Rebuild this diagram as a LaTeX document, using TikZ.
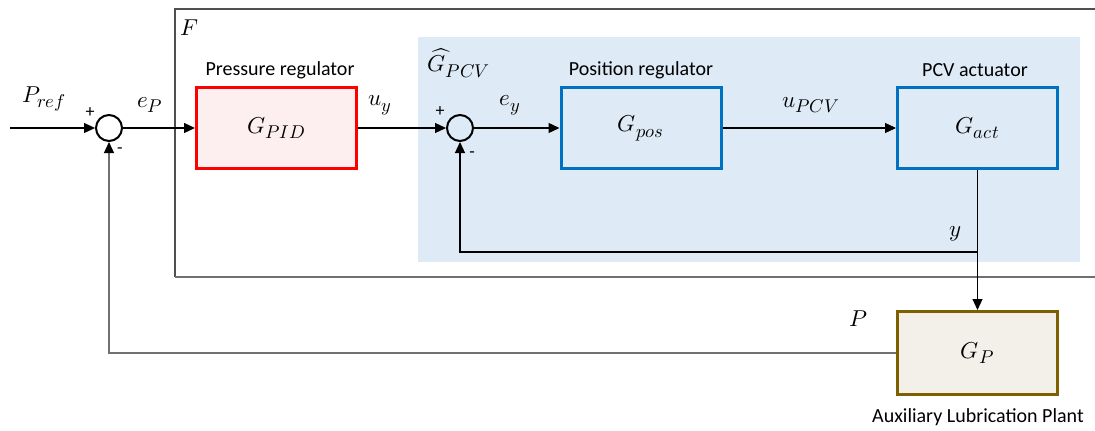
\documentclass[tikz,border=0pt]{standalone}
\usepackage{fontspec}
\usepackage{unicode-math}
\setmainfont{Carlito}
\setmathfont{Latin Modern Math}
\DeclareMathSizes{23}{23}{18.5}{14}
\usetikzlibrary{arrows.meta}
\definecolor{bgblue}{HTML}{DEEBF7}
\definecolor{blkblue}{HTML}{0070C0}
\definecolor{pidfill}{HTML}{FDEFEF}
\definecolor{brown}{HTML}{7F6000}
\definecolor{gpfill}{HTML}{F2F0E9}
\definecolor{frame}{HTML}{707070}
\definecolor{framedark}{HTML}{505050}
\begin{document}
\begin{tikzpicture}[x=1pt,y=-1pt,
  blk/.style={draw, line width=3pt, minimum width=160pt, minimum height=81pt, inner sep=0pt, font=\fontsize{23}{27}\selectfont},
  sumj/.style={circle, draw, line width=2pt, minimum size=26pt, inner sep=0pt},
  conn/.style={line width=1.2pt, -{Triangle[length=11pt,width=10pt,color=black]}},
  lbl/.style={inner sep=0pt, font=\fontsize{20}{23}\selectfont},
  mlbl/.style={inner sep=0pt, font=\fontsize{23}{27}\selectfont},
  sgn/.style={inner sep=0pt, font=\fontsize{18}{20}\selectfont}]
\useasboundingbox (0,0) rectangle (1095,431);
% frame F
\draw[framedark, line width=1.2pt] (1095,9) -- (175,9) -- (175,277);
\draw[frame, line width=1.2pt] (175,277) -- (1095,277);
\node[mlbl] (Flbl) at (189,28) {$F$};
% blue region
\fill[bgblue] (418,37) rectangle (1080,262);
\node[mlbl] (Gpcv) at (459,63) {$\widehat{G}_{PCV}$};
% blocks
\node[blk, draw=red, fill=pidfill] (pid) at (276.5,128) {$G_{PID}$};
\node[blk, draw=blkblue, fill=bgblue] (pos) at (641,128) {$G_{pos}$};
\node[blk, draw=blkblue, fill=bgblue] (act) at (977.5,128) {$G_{act}$};
\node[blk, draw=brown, fill=gpfill, minimum height=83pt] (gp) at (977.5,353) {$G_{P}$};
% block titles
\node[lbl] (t1) at (280,70) {Pressure regulator};
\node[lbl] (t2) at (641,70) {Position regulator};
\node[lbl] (t3) at (975,70) {PCV actuator};
\node[lbl] (t4) at (978,417) {Auxiliary Lubrication Plant};
% summing junctions
\node[sgn] (p1) at (90,113) {+};
\node[sgn] (m1) at (120,151) {-};
\node[sgn] (p2) at (440,112) {+};
\node[sgn] (m2) at (472,155) {-};
\node[sumj] (s1) at (109,128) {};
\node[sumj] (s2) at (460,128) {};
% signal labels
\node[mlbl] (lPref) at (44,99) {$P_{ref}$};
\node[mlbl] (leP) at (150,105) {$e_P$};
\node[mlbl] (luy) at (380,105) {$u_y$};
\node[mlbl] (ley) at (510,105) {$e_y$};
\node[mlbl] (lupcv) at (811,105) {$u_{PCV}$};
\node[mlbl] (ly) at (955,234) {$y$};
\node[mlbl] (lP) at (858,319) {$P$};
% connectors
\coordinate (in) at (10,128);
\coordinate (yj) at (977.5,252);
\draw[conn] (in) -- (s1.west);
\draw[conn] (s1.east) -- (pid.west);
\draw[conn] (pid.east) -- (s2.west);
\draw[conn] (s2.east) -- (pos.west);
\draw[conn] (pos.east) -- (act.west);
\draw[conn] (act.south) -- (gp.north);
\draw[conn] (yj) -| (s2.south);
\draw[conn, draw=frame] (gp.west) -| (s1.south);
\end{tikzpicture}
\end{document}
